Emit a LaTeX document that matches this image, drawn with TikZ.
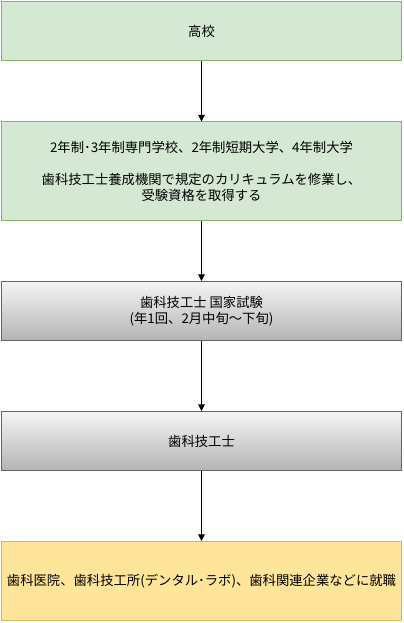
\documentclass[tikz,border=0pt]{standalone}
\usepackage{fontspec}
\setmainfont{Noto Sans CJK JP}
\usetikzlibrary{arrows.meta}

\definecolor{greenfill}{HTML}{D5E8D4}
\definecolor{greenline}{HTML}{82B366}
\definecolor{grayline}{HTML}{666666}
\definecolor{graytop}{HTML}{F5F5F5}
\definecolor{graybot}{HTML}{B3B3B3}
\definecolor{yellowfill}{HTML}{FFE599}
\definecolor{yellowline}{HTML}{D6B656}

\tikzset{every picture/.style={line width=0.75pt}}
\tikzset{
	greenbox/.style={draw=greenline, fill=greenfill, minimum width=300pt, align=center, font=\fontsize{10}{12}\selectfont},
	graybox/.style={draw=grayline, top color=graytop, bottom color=graybot, minimum width=300pt, align=center, font=\fontsize{10}{12}\selectfont},
	yellowbox/.style={draw=yellowline, fill=yellowfill, minimum width=300pt, align=center, font=\fontsize{10}{12}\selectfont},
	flowarrow/.style={-{Triangle[length=5pt,width=5pt]}}
}

\begin{document}
\begin{tikzpicture}[x=0.75pt,y=0.75pt,yscale=-1,xscale=1]
	\useasboundingbox (0,0) rectangle (403,623);

	%Boxes
	\node [greenbox, minimum height=44.6pt] (school) at (201.5,31.25) {高校};
	\node [greenbox, minimum height=74.25pt] (training) at (201.5,171.5) {2年制･3年制専門学校、2年制短期大学、4年制大学\\[12pt]歯科技工士養成機関で規定のカリキュラムを修業し、\\受験資格を取得する};
	\node [graybox, minimum height=44.6pt] (exam) at (201.5,311.25) {歯科技工士 国家試験\\(年1回、2月中旬〜下旬)};
	\node [graybox, minimum height=44.6pt] (technician) at (201.5,441.25) {歯科技工士};
	\node [yellowbox, minimum height=59.6pt] (job) at (201.5,581.25) {歯科医院、歯科技工所(デンタル･ラボ)、歯科関連企業などに就職};

	%Arrows
	\draw [flowarrow] (school) -- (training);
	\draw [flowarrow] (training) -- (exam);
	\draw [flowarrow] (exam) -- (technician);
	\draw [flowarrow] (technician) -- (job);

\end{tikzpicture}
\end{document}
